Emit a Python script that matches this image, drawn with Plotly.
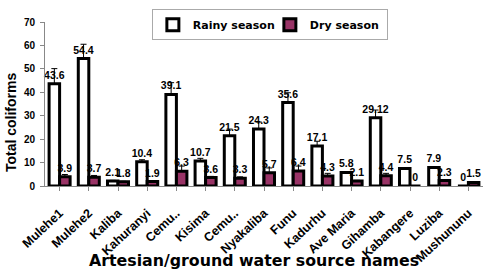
import plotly.graph_objects as go

categories = ["Mulehe1", "Mulehe2", "Kaliba", "Kahuranyi", "Cemu..", "Kisima", "Cemu..",
              "Nyakaliba", "Funu", "Kadurhu", "Ave Maria", "Gihamba", "Kabangere",
              "Luziba", "Mushununu"]
rainy = [43.6, 54.4, 2.1, 10.4, 39.1, 10.7, 21.5, 24.3, 35.6, 17.1, 5.8, 29.12, 7.5, 7.9, 0]
dry = [3.9, 3.7, 1.8, 1.9, 6.3, 3.6, 3.3, 5.7, 6.4, 4.3, 2.1, 4.4, 0, 2.3, 1.5]
rainy_err = [6.5, 6.1, 0.3, 0.8, 5.0, 1.1, 2.8, 3.0, 4.2, 2.0, 0.3, 3.3, 0.3, 0.4, 0]
dry_err = [1.0, 0.8, 0.2, 0.3, 2.2, 0.5, 0.6, 2.0, 2.1, 1.1, 0.3, 1.0, 0, 0.3, 0.2]
rainy_labels = ["43.6", "54.4", "2.1", "10.4", "39.1", "10.7", "21.5", "24.3", "35.6",
                "17.1", "5.8", "29.12", "7.5", "7.9", "0"]
dry_labels = ["3.9", "3.7", "1.8", "1.9", "6.3", "3.6", "3.3", "5.7", "6.4", "4.3",
              "2.1", "4.4", "0", "2.3", "1.5"]
y_ticks = [0, 10, 20, 30, 40, 50, 60, 70]

x = list(range(len(categories)))
FONT = "Arial, Liberation Sans, sans-serif"
WIDE = "DejaVu Sans, sans-serif"

fig = go.Figure()
fig.add_trace(go.Bar(
    x=x, y=rainy, name="Rainy season",
    marker=dict(color="white", line=dict(color="black", width=3)),
    error_y=dict(type="data", array=rainy_err, arrayminus=[0] * len(x), symmetric=False,
                 color="black", thickness=1, width=3),
    text=rainy_labels, textposition="outside", constraintext="none", cliponaxis=False,
    textfont=dict(family=FONT, size=10.5, color="black", weight="bold"),
))
fig.add_trace(go.Bar(
    x=x, y=dry, name="Dry season",
    marker=dict(color="#993366", line=dict(color="black", width=3)),
    error_y=dict(type="data", array=dry_err, arrayminus=[0] * len(x), symmetric=False,
                 color="black", thickness=1, width=3),
    text=dry_labels, textposition="outside", constraintext="none", cliponaxis=False,
    textfont=dict(family=FONT, size=10.5, color="black", weight="bold"),
))

fig.update_layout(
    width=500, height=270,
    margin=dict(l=45, r=17, t=22, b=84, autoexpand=False),
    paper_bgcolor="white", plot_bgcolor="white",
    barmode="group", bargap=0.28, bargroupgap=0,
    font=dict(family=FONT, color="black"),
    showlegend=True,
    legend=dict(orientation="h", x=0.244, y=1.077, xanchor="left", yanchor="top",
                bordercolor="#aaaaaa", borderwidth=1, bgcolor="white",
                font=dict(family=WIDE, size=11, color="black", weight="bold"),
                entrywidth=72, entrywidthmode="pixels", traceorder="normal"),
    xaxis=dict(
        tickmode="array", tickvals=x, ticktext=categories, tickangle=-43,
        range=[-0.5, len(x) - 0.5],
        tickfont=dict(family=FONT, size=12.5, color="black", weight="bold"),
        showline=True, linecolor="#888888", linewidth=1,
        ticks="outside", ticklen=4, tickcolor="#888888", tickson="boundaries",
        ticklabelstandoff=10,
        showgrid=False, zeroline=False,
    ),
    yaxis=dict(
        range=[0, 70], tickvals=y_ticks,
        tickfont=dict(family=FONT, size=10, color="black", weight="bold"),
        showline=True, linecolor="#888888", linewidth=1,
        ticks="outside", ticklen=4, tickcolor="#888888", ticklabelstandoff=3,
        showgrid=False, zeroline=False,
    ),
    annotations=[
        dict(text="Artesian/ground water source names", xref="paper", yref="paper",
             x=0.478, y=-0.456, xanchor="center", yanchor="middle", showarrow=False,
             font=dict(family=WIDE, size=15.8, color="black", weight="bold")),
        dict(text="Total coliforms", xref="paper", yref="paper", textangle=-90,
             x=-0.0776, y=0.39, xanchor="center", yanchor="middle", showarrow=False,
             font=dict(family=FONT, size=14, color="black", weight="bold")),
    ],
)

fig.write_html("out.html", config={"displayModeBar": False},
               post_script="document.body.style.margin='0px';")
